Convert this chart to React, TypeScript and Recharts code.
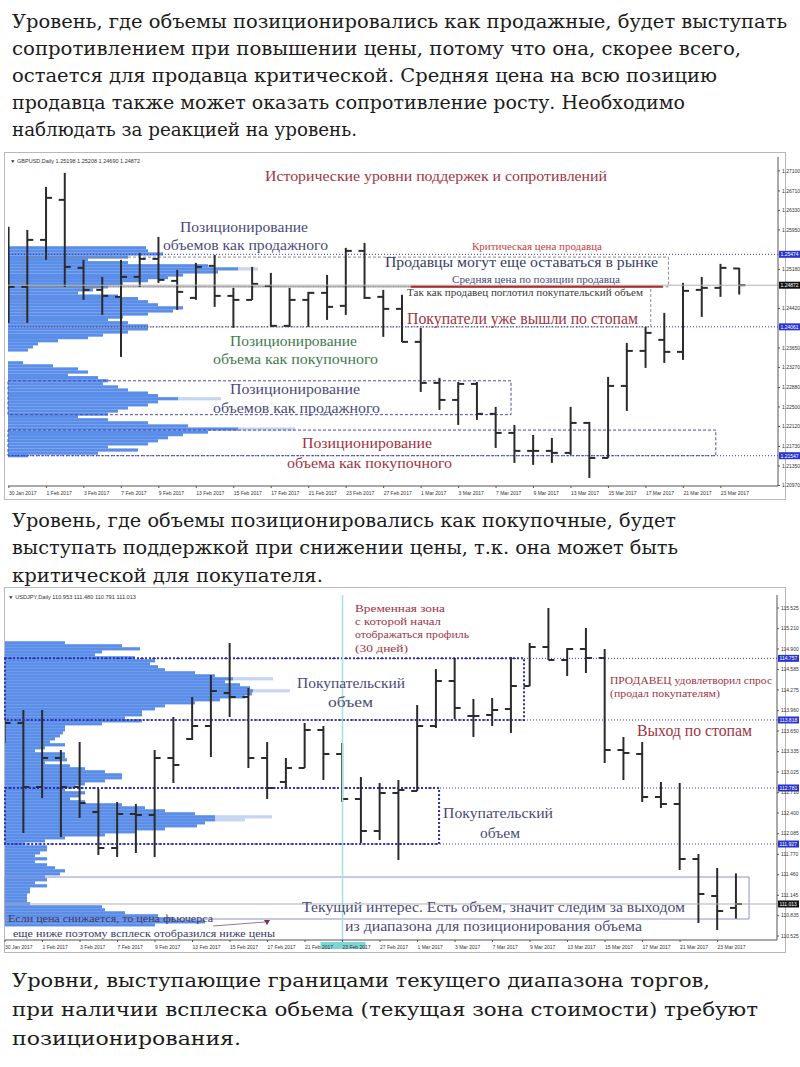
import React from 'react';
import { ComposedChart, BarChart, Bar, XAxis, YAxis, ReferenceLine, ReferenceArea } from 'recharts';

// ---------- GBPUSD daily (30 Jan – 24 Mar 2017) ----------
const gbpDates = ['30 Jan 2017', '1 Feb 2017', '3 Feb 2017', '7 Feb 2017', '9 Feb 2017', '13 Feb 2017', '15 Feb 2017', '17 Feb 2017', '21 Feb 2017', '23 Feb 2017', '27 Feb 2017', '1 Mar 2017', '3 Mar 2017', '7 Mar 2017', '9 Mar 2017', '13 Mar 2017', '15 Mar 2017', '17 Mar 2017', '21 Mar 2017', '23 Mar 2017'];
const gbpOpen = [1.24839, 1.24839, 1.25755, 1.26535, 1.2521, 1.24781, 1.24645, 1.25034, 1.25385, 1.24956, 1.24625, 1.25249, 1.24664, 1.24586, 1.24859, 1.2408, 1.24586, 1.24723, 1.2447, 1.25541, 1.24645, 1.24411, 1.23768, 1.22969, 1.22637, 1.22949, 1.22365, 1.21994, 1.21644, 1.21644, 1.21605, 1.22189, 1.21507, 1.2291, 1.23592, 1.23807, 1.23573, 1.24781, 1.2482, 1.25198];
const gbpHigh = [1.26009, 1.2595, 1.26788, 1.27061, 1.25366, 1.25034, 1.25366, 1.25502, 1.25814, 1.25171, 1.25307, 1.25463, 1.2482, 1.25229, 1.25112, 1.2482, 1.24742, 1.25073, 1.256, 1.25697, 1.24781, 1.24684, 1.24041, 1.23066, 1.22988, 1.22988, 1.22501, 1.2215, 1.21955, 1.21897, 1.22501, 1.22209, 1.23086, 1.23748, 1.2406, 1.24333, 1.24917, 1.25034, 1.25288, 1.25208];
const gbpLow = [1.24138, 1.24138, 1.25366, 1.24839, 1.24586, 1.24294, 1.23475, 1.24839, 1.24917, 1.24391, 1.24586, 1.2445, 1.24041, 1.24586, 1.2406, 1.2406, 1.2406, 1.24196, 1.24294, 1.24606, 1.23865, 1.23768, 1.22793, 1.22443, 1.2215, 1.22248, 1.21702, 1.2141, 1.21371, 1.2141, 1.21566, 1.21118, 1.21507, 1.22423, 1.23261, 1.23358, 1.23417, 1.24255, 1.24645, 1.2469];
const gbpClose = [1.24839, 1.25755, 1.26574, 1.25229, 1.24781, 1.24664, 1.25034, 1.25385, 1.24976, 1.24742, 1.25229, 1.24664, 1.24586, 1.24898, 1.2408, 1.24586, 1.24723, 1.2445, 1.25541, 1.24625, 1.24411, 1.23768, 1.22969, 1.22637, 1.22949, 1.22365, 1.21994, 1.21644, 1.21644, 1.21605, 1.22189, 1.21507, 1.2291, 1.23592, 1.23943, 1.23573, 1.24762, 1.2482, 1.2521, 1.24872];
const gbpTicks = [1.271, 1.2671, 1.2633, 1.2595, 1.2518, 1.2442, 1.2365, 1.2327, 1.2288, 1.225, 1.2212, 1.2173, 1.2135, 1.2097];

// volume profile (price level -> relative volume)
const gbpLevels = [1.2560, 1.2554, 1.2548, 1.2542, 1.2537, 1.2531, 1.2525, 1.2519, 1.2513, 1.2507, 1.2502, 1.2496, 1.2490, 1.2484, 1.2478, 1.2472, 1.2466, 1.2461, 1.2455, 1.2449, 1.2443, 1.2437, 1.2431, 1.2425, 1.2420, 1.2414, 1.2408, 1.2402, 1.2396, 1.2390, 1.2385, 1.2379, 1.2373, 1.2367, 1.2361,
  1.2336, 1.2330, 1.2324, 1.2318, 1.2312, 1.2307, 1.2301, 1.2295, 1.2289, 1.2283, 1.2277, 1.2272, 1.2266, 1.2260, 1.2254, 1.2248, 1.2242, 1.2236, 1.2231, 1.2225, 1.2219, 1.2213, 1.2207, 1.2201, 1.2196, 1.2190, 1.2184, 1.2178, 1.2172, 1.2166, 1.2160, 1.2155];
const gbpVolume = [138, 140, 155, 120, 80, 120, 200, 230, 210, 175, 160, 140, 115, 100, 85, 70, 110, 130, 140, 150, 175, 165, 140, 115, 100, 120, 140, 140, 120, 95, 80, 50, 30, 25, 20,
  15, 45, 70, 80, 60, 90, 100, 95, 110, 120, 140, 150, 170, 150, 140, 120, 110, 100, 70, 100, 140, 180, 230, 200, 175, 160, 150, 140, 100, 130, 90, 20];
const gbpTails: [number, number][] = [[1.2519, 20], [1.2266, 43], [1.2207, 57]];

// ---------- USDJPY daily ----------
const jpyOpen = [113.742, 113.772, 112.796, 113.238, 112.796, 112.415, 111.866, 112.385, 112.37, 113.238, 113.528, 113.726, 114.229, 114.168, 113.238, 112.873, 113.086, 113.665, 113.299, 112.613, 112.126, 112.705, 112.735, 113.726, 114.412, 113.879, 113.894, 113.985, 114.336, 114.93, 114.732, 114.9, 114.763, 113.36, 113.299, 112.644, 112.537, 111.699, 111.135, 110.953];
const jpyHigh = [113.863, 113.97, 113.97, 113.36, 113.482, 112.766, 112.568, 112.537, 113.36, 113.863, 114.168, 114.504, 114.991, 114.305, 113.482, 113.238, 113.772, 113.726, 113.467, 112.949, 112.857, 112.903, 114.046, 114.595, 114.763, 114.138, 114.153, 114.778, 114.991, 115.525, 114.915, 115.22, 114.9, 113.559, 113.482, 112.873, 112.857, 111.775, 111.562, 111.48];
const jpyLow = [113.467, 112.095, 112.629, 112.034, 112.324, 111.76, 111.729, 111.79, 111.729, 112.857, 113.513, 113.254, 113.863, 113.086, 112.613, 112.781, 113.086, 112.903, 112.568, 111.943, 111.988, 111.684, 112.735, 113.696, 113.833, 113.559, 113.726, 113.62, 114.336, 114.732, 114.488, 114.534, 113.162, 112.903, 112.568, 112.476, 111.531, 110.723, 110.616, 110.791];
const jpyClose = [113.772, 112.796, 113.238, 112.796, 112.552, 111.866, 112.385, 112.37, 113.238, 113.132, 113.726, 114.26, 114.168, 113.238, 112.781, 113.086, 113.665, 113.299, 112.613, 112.126, 112.705, 112.751, 113.726, 114.412, 114.001, 113.879, 113.97, 114.336, 114.93, 114.732, 114.9, 114.763, 113.36, 113.315, 112.644, 112.537, 111.699, 111.165, 110.906, 111.013];
const jpyTicks = [115.525, 115.21, 114.9, 114.585, 114.275, 113.96, 113.65, 113.335, 113.025, 112.71, 112.4, 112.085, 111.77, 111.46, 111.145, 110.835, 110.525];

const jpyLevels = [114.991, 114.946, 114.9, 114.854, 114.809, 114.763, 114.717, 114.671, 114.626, 114.58, 114.534, 114.488, 114.443, 114.397, 114.351, 114.305, 114.26, 114.214, 114.168, 114.123, 114.077, 114.031, 113.985, 113.94, 113.894, 113.848, 113.802, 113.757, 113.711, 113.665, 113.62, 113.574, 113.528, 113.482, 113.437, 113.391, 113.345, 113.299, 113.254, 113.208, 113.162, 113.116, 113.071, 113.025, 112.979, 112.934, 112.888, 112.842, 112.796, 112.751, 112.705, 112.659, 112.613, 112.568, 112.522, 112.476, 112.43, 112.385, 112.339, 112.293, 112.247, 112.202, 112.156, 112.11, 112.064, 112.019, 111.973, 111.927, 111.881, 111.836, 111.79, 111.744, 111.699, 111.653, 111.607, 111.562, 111.516, 111.47, 111.424, 111.379, 111.333, 111.287, 111.241, 111.196, 111.15, 111.104, 111.058, 111.013, 110.967, 110.921, 110.875, 110.83, 110.784, 110.738, 110.692];
const jpyVolume = [60, 117, 135, 97, 90, 130, 150, 145, 153, 160, 190, 210, 228, 220, 235, 245, 248, 247, 240, 215, 190, 160, 150, 137, 137, 120, 137, 97, 60, 60, 58, 55, 50, 45, 60, 40, 30, 60, 60, 62, 40, 65, 80, 100, 117, 117, 100, 80, 70, 60, 80, 75, 65, 80, 117, 140, 160, 190, 210, 210, 200, 192, 160, 130, 100, 60, 40, 20, 42, 42, 35, 30, 42, 30, 42, 50, 60, 55, 40, 42, 30, 42, 25, 25, 22, 22, 22, 25, 97, 100, 120, 153, 170, 200, 150];
const jpyTails: [number, number][] = [[114.443, 40], [114.26, 37], [112.339, 57], [112.293, 30]];

const toRows = (o: number[], h: number[], l: number[], c: number[]) =>
  o.map((open, i) => ({ i, open, high: h[i], low: l[i], close: c[i] }));
const toProfile = (levels: number[], vols: number[], tails: [number, number][]) =>
  levels.map((price, k) => ({ price, vol: vols[k], tail: (tails.find((t) => t[0] === price) || [0, 0])[1] }));

const gbpRows = toRows(gbpOpen, gbpHigh, gbpLow, gbpClose);
const jpyRows = toRows(jpyOpen, jpyHigh, jpyLow, jpyClose);
const gbpProfile = toProfile(gbpLevels, gbpVolume, gbpTails);
const jpyProfile = toProfile(jpyLevels, jpyVolume, jpyTails);

const evenTicks = gbpDates.map((_, k) => k * 2);

const OhlcShape = (props: any) => {
  const { x, y, width, height, payload } = props;
  if (x == null || y == null) return null;
  const top = Math.min(y, y + height);
  const h = Math.abs(height);
  const cx = x + width / 2;
  const range = payload.high - payload.low || 1;
  const yo = top + ((payload.high - payload.open) / range) * h;
  const yc = top + ((payload.high - payload.close) / range) * h;
  return (
    <g stroke="#2b2b2b" strokeWidth={2}>
      <line x1={cx} x2={cx} y1={top} y2={top + h} />
      <line x1={cx - 6} x2={cx} y1={yo} y2={yo} />
      <line x1={cx} x2={cx + 6} y1={yc} y2={yc} />
    </g>
  );
};

// one profile row: keep the library's x / width, fixed row thickness around its centre
const ProfileRow = (props: any) => {
  const { x, y, width, height, fill } = props;
  if (x == null || y == null || !width) return null;
  const mid = y + height / 2;
  return <rect x={x} y={mid - 1.6} width={Math.abs(width)} height={3.2} fill={fill} />;
};

const PriceTag = (props: any) => {
  const { viewBox, text, bg } = props;
  if (!viewBox) return null;
  const x = viewBox.x + viewBox.width;
  return (
    <g>
      <rect x={x + 1} y={viewBox.y - 3.5} width={21} height={7} fill={bg} />
      <text x={x + 2.5} y={viewBox.y + 2} fontSize={5} fill="#fff" fontFamily="Arial">{text}</text>
    </g>
  );
};

// cyan time marker on the date axis
const TimeTag = (props: any) => {
  const { viewBox } = props;
  if (!viewBox) return null;
  return <rect x={viewBox.x - 22} y={viewBox.y + viewBox.height + 2} width={45} height={7} fill="#7ed5d5" />;
};

const dateTick = (labels: string[]) => (p: any) => (
  <text x={p.x} y={p.y + 5} fontSize={5} fill="#333" fontFamily="Arial">{labels[p.payload.value / 2]}</text>
);

const BLUE = '#3434c4';
const BOX = '#4a4ab0';
const red = '#9e3544';
const slate = '#4b4b78';
const green = '#3f7b4f';

const paragraphs = [
  { t: 'Уровень, где объемы позиционировались как продажные, будет выступать', x: 12, y: 28, w: 775 },
  { t: 'сопротивлением при повышении цены, потому что она, скорее всего,', x: 12, y: 55, w: 729 },
  { t: 'остается для продавца критической. Средняя цена на всю позицию', x: 12, y: 82, w: 705 },
  { t: 'продавца также может оказать сопротивление росту. Необходимо', x: 12, y: 109, w: 673 },
  { t: 'наблюдать за реакцией на уровень.', x: 12, y: 136, w: 345 },
  { t: 'Уровень, где объемы позиционировались как покупочные, будет', x: 12, y: 527, w: 664 },
  { t: 'выступать поддержкой при снижении цены, т.к. она может быть', x: 12, y: 554, w: 666 },
  { t: 'критической для покупателя.', x: 12, y: 582, w: 311 },
  { t: 'Уровни, выступающие границами текущего диапазона торгов,', x: 12, y: 987, w: 698 },
  { t: 'при наличии всплеска обьема (текущая зона стоимости) требуют', x: 12, y: 1016, w: 746 },
  { t: 'позиционирования.', x: 12, y: 1045, w: 229 },
];

const notes = [
  { t: 'Исторические уровни поддержек и сопротивлений', x: 265, y: 181, s: 15, w: 342, c: red },
  { t: 'Позиционирование', x: 180, y: 232, s: 14, w: 128, c: slate },
  { t: 'объемов как продажного', x: 163, y: 250, s: 14, w: 165, c: slate },
  { t: 'Критическая цена продавца', x: 472, y: 250, s: 10, w: 130, c: '#c8413f' },
  { t: 'Продавцы могут еще оставаться в рынке', x: 385, y: 267, s: 15, w: 273, c: '#383c68' },
  { t: 'Средняя цена по позиции продавца', x: 452, y: 283, s: 11, w: 168, c: slate },
  { t: 'Так как продавец поглотил покупательский объем', x: 407, y: 296, s: 10, w: 236, c: '#3a3a3a' },
  { t: 'Покупатели уже вышли по стопам', x: 407, y: 324, s: 16, w: 231, c: red },
  { t: 'Позиционирование', x: 230, y: 346, s: 14, w: 127, c: green },
  { t: 'объема как покупочного', x: 213, y: 364, s: 14, w: 165, c: green },
  { t: 'Позиционирование', x: 230, y: 394, s: 14, w: 130, c: slate },
  { t: 'объемов как продажного', x: 213, y: 413, s: 14, w: 167, c: slate },
  { t: 'Позиционирование', x: 302, y: 448, s: 14, w: 130, c: red },
  { t: 'объема как покупочного', x: 287, y: 468, s: 14, w: 165, c: red },
  { t: 'Временная зона', x: 355, y: 612, s: 11, w: 90, c: red },
  { t: 'с которой начал', x: 355, y: 625, s: 11, w: 86, c: red },
  { t: 'отображаться профиль', x: 355, y: 638, s: 11, w: 114, c: red },
  { t: '(30 дней)', x: 355, y: 652, s: 11, w: 53, c: red },
  { t: 'Покупательский', x: 297, y: 688, s: 15, w: 108, c: slate },
  { t: 'объем', x: 328, y: 707, s: 15, w: 45, c: slate },
  { t: 'ПРОДАВЕЦ удовлетворил спрос', x: 610, y: 684, s: 11, w: 162, c: red },
  { t: '(продал покупателям)', x: 610, y: 697, s: 11, w: 110, c: red },
  { t: 'Выход по стопам', x: 637, y: 736, s: 16, w: 115, c: red },
  { t: 'Покупательский', x: 443, y: 818, s: 15, w: 110, c: slate },
  { t: 'объем', x: 480, y: 838, s: 15, w: 40, c: slate },
  { t: 'Текущий интерес. Есть объем, значит следим за выходом', x: 302, y: 912, s: 15, w: 383, c: slate },
  { t: 'из диапазона для позиционирования объема', x: 345, y: 931, s: 15, w: 297, c: slate },
  { t: 'Если цена снижается, то цена фьючерса', x: 8, y: 922, s: 11, w: 205, c: '#383c68' },
  { t: 'еще ниже поэтому всплеск отобразился ниже цены', x: 13, y: 937, s: 11, w: 262, c: '#383c68' },
];

const headers = [
  { t: '▼ GBPUSD,Daily 1.25198 1.25208 1.24690 1.24872', x: 10, y: 163, w: 130 },
  { t: '▼ USDJPY,Daily 110.953 111.480 110.791 111.013', x: 8, y: 599, w: 128 },
];

const W = 800;
const H1 = 352;
const H2 = 367;
const gbpY: [number, number] = [1.2096, 1.2737];
const jpyY: [number, number] = [110.464, 115.723];
const gbpX: [number, number] = [-0.05, 41.05];
const jpyX: [number, number] = [0, 41.17];

const App: React.FC = () => {
  return (
    <div style={{ position: 'absolute', left: 0, top: 0, width: 800, height: 1067, background: '#fff', overflow: 'hidden' }}>
      <div style={{ position: 'absolute', left: 4, top: 152, width: 782, height: 348, border: '1px solid #b8b8b8', boxSizing: 'border-box' }} />
      <div style={{ position: 'absolute', left: 4, top: 587, width: 782, height: 366, border: '1px solid #b8b8b8', boxSizing: 'border-box' }} />

      {/* GBPUSD volume profile */}
      <div style={{ position: 'absolute', left: 0, top: 150 }}>
        <BarChart layout="vertical" width={W} height={H1} data={gbpProfile} margin={{ top: 7, right: 22, bottom: 16, left: 8 }}>
          <XAxis type="number" domain={[0, 770]} hide allowDataOverflow />
          <YAxis type="number" dataKey="price" domain={gbpY} hide allowDataOverflow reversed />
          <Bar dataKey="vol" stackId="p" fill="#5a8ee8" shape={<ProfileRow />} isAnimationActive={false} />
          <Bar dataKey="tail" stackId="p" fill="#c6d6f2" shape={<ProfileRow />} isAnimationActive={false} />
        </BarChart>
      </div>

      {/* GBPUSD bars */}
      <div style={{ position: 'absolute', left: 0, top: 150 }}>
        <ComposedChart width={W} height={H1} data={gbpRows} margin={{ top: 7, right: 0, bottom: 4, left: 8 }}>
          <XAxis dataKey="i" type="number" domain={gbpX} allowDataOverflow ticks={evenTicks} height={12} tickSize={2}
            tick={dateTick(gbpDates)} stroke="#555" interval={0} />
          <YAxis orientation="right" type="number" domain={gbpY} allowDataOverflow ticks={gbpTicks} width={22} tickSize={2}
            tick={{ fontSize: 5, fill: '#333', fontFamily: 'Arial' }} stroke="#555" interval={0}
            tickFormatter={(v: number) => v.toFixed(5)} />
          <ReferenceArea x1={0.75} x2={35.2} y1={1.2542} y2={1.2484} fill="none" fillOpacity={0} stroke="#8a8a8a" strokeDasharray="3 2" ifOverflow="visible" />
          <ReferenceArea x1={0.75} x2={34.26} y1={1.2484} y2={1.2406} fill="none" fillOpacity={0} stroke="#8a8a8a" strokeDasharray="3 2" ifOverflow="visible" />
          <ReferenceArea x1={-0.05} x2={26.8} y1={1.2301} y2={1.2235} fill="none" fillOpacity={0} stroke={BOX} strokeDasharray="3 2" ifOverflow="visible" />
          <ReferenceArea x1={-0.05} x2={37.73} y1={1.2205} y2={1.2155} fill="none" fillOpacity={0} stroke={BOX} strokeDasharray="3 2" ifOverflow="visible" />
          <ReferenceLine y={1.25474} stroke={BLUE} strokeDasharray="1 2" label={<PriceTag text="1.25474" bg="#2a35d0" />} />
          <ReferenceLine y={1.24872} stroke="#b0b0b0" label={<PriceTag text="1.24872" bg="#111" />} />
          <ReferenceLine y={1.24061} stroke={BLUE} strokeDasharray="1 2" label={<PriceTag text="1.24061" bg="#2a35d0" />} />
          <ReferenceLine y={1.2155} stroke={BLUE} strokeDasharray="1 2" label={<PriceTag text="1.21547" bg="#2a35d0" />} />
          <ReferenceLine segment={[{ x: 21.45, y: 1.2484 }, { x: 34.9, y: 1.2484 }]} stroke="#b02a2a" strokeWidth={2} />
          <Bar dataKey={(d: any) => [d.low, d.high]} barSize={12} shape={<OhlcShape />} isAnimationActive={false} />
        </ComposedChart>
      </div>

      {/* USDJPY volume profile */}
      <div style={{ position: 'absolute', left: 0, top: 588 }}>
        <BarChart layout="vertical" width={W} height={H2} data={jpyProfile} margin={{ top: 7, right: 23, bottom: 15, left: 5 }}>
          <XAxis type="number" domain={[0, 772]} hide allowDataOverflow />
          <YAxis type="number" dataKey="price" domain={jpyY} hide allowDataOverflow reversed />
          <Bar dataKey="vol" stackId="p" fill="#5a8ee8" shape={<ProfileRow />} isAnimationActive={false} />
          <Bar dataKey="tail" stackId="p" fill="#c6d6f2" shape={<ProfileRow />} isAnimationActive={false} />
        </BarChart>
      </div>

      {/* USDJPY bars */}
      <div style={{ position: 'absolute', left: 0, top: 588 }}>
        <ComposedChart width={W} height={H2} data={jpyRows} margin={{ top: 7, right: 0, bottom: 3, left: 5 }}>
          <XAxis dataKey="i" type="number" domain={jpyX} allowDataOverflow ticks={evenTicks} height={12} tickSize={2}
            tick={dateTick(gbpDates)} stroke="#555" interval={0} />
          <YAxis orientation="right" type="number" domain={jpyY} allowDataOverflow ticks={jpyTicks} width={23} tickSize={2}
            tick={{ fontSize: 5, fill: '#333', fontFamily: 'Arial' }} stroke="#555" interval={0}
            tickFormatter={(v: number) => v.toFixed(3)} />
          <ReferenceLine x={18} stroke="#a8dfdf" strokeWidth={1.5} label={<TimeTag />} />
          <ReferenceArea x1={0} x2={27.68} y1={114.757} y2={113.818} fill="none" fillOpacity={0} stroke="#3030a8" strokeWidth={2} strokeDasharray="2 2" ifOverflow="visible" />
          <ReferenceArea x1={0} x2={23.15} y1={112.781} y2={111.927} fill="none" fillOpacity={0} stroke="#3030a8" strokeWidth={2} strokeDasharray="2 2" ifOverflow="visible" />
          <ReferenceArea x1={0} x2={39.68} y1={111.424} y2={110.784} fill="none" fillOpacity={0} stroke="#8f8fd0" ifOverflow="visible" />
          <ReferenceLine y={114.757} stroke={BLUE} strokeDasharray="1 2" label={<PriceTag text="114.757" bg="#2a35d0" />} />
          <ReferenceLine y={113.818} stroke={BLUE} strokeDasharray="1 2" label={<PriceTag text="113.818" bg="#2a35d0" />} />
          <ReferenceLine y={112.781} stroke={BLUE} strokeDasharray="1 2" label={<PriceTag text="112.781" bg="#2a35d0" />} />
          <ReferenceLine y={111.927} stroke={BLUE} strokeDasharray="1 2" label={<PriceTag text="111.927" bg="#2a35d0" />} />
          <ReferenceLine y={111.013} stroke="#b0b0b0" label={<PriceTag text="111.013" bg="#111" />} />
          <Bar dataKey={(d: any) => [d.low, d.high]} barSize={12} shape={<OhlcShape />} isAnimationActive={false} />
        </ComposedChart>
      </div>

      {/* text layer */}
      <svg width={800} height={1067} style={{ position: 'absolute', left: 0, top: 0, pointerEvents: 'none' }}>
        {paragraphs.map((p, k) => (
          <text key={'p' + k} x={p.x} y={p.y} fontSize={18.5} fill="#1c1c1c" fontFamily="DejaVu Serif"
            textLength={p.w} lengthAdjust="spacingAndGlyphs">{p.t}</text>
        ))}
        {notes.map((n, k) => (
          <text key={'n' + k} x={n.x} y={n.y} fontSize={n.s} fill={n.c} fontFamily="Liberation Serif"
            textLength={n.w} lengthAdjust="spacingAndGlyphs">{n.t}</text>
        ))}
        {headers.map((h, k) => (
          <text key={'h' + k} x={h.x} y={h.y} fontSize={5} fill="#333" fontFamily="Arial"
            textLength={h.w} lengthAdjust="spacingAndGlyphs">{h.t}</text>
        ))}
        <line x1={213} y1={926} x2={265} y2={922} stroke="#7a5a6a" strokeWidth={0.8} />
        <polygon points="264,920 270,920 267,925" fill="#8a2a3a" />
      </svg>
    </div>
  );
};

export default App;
